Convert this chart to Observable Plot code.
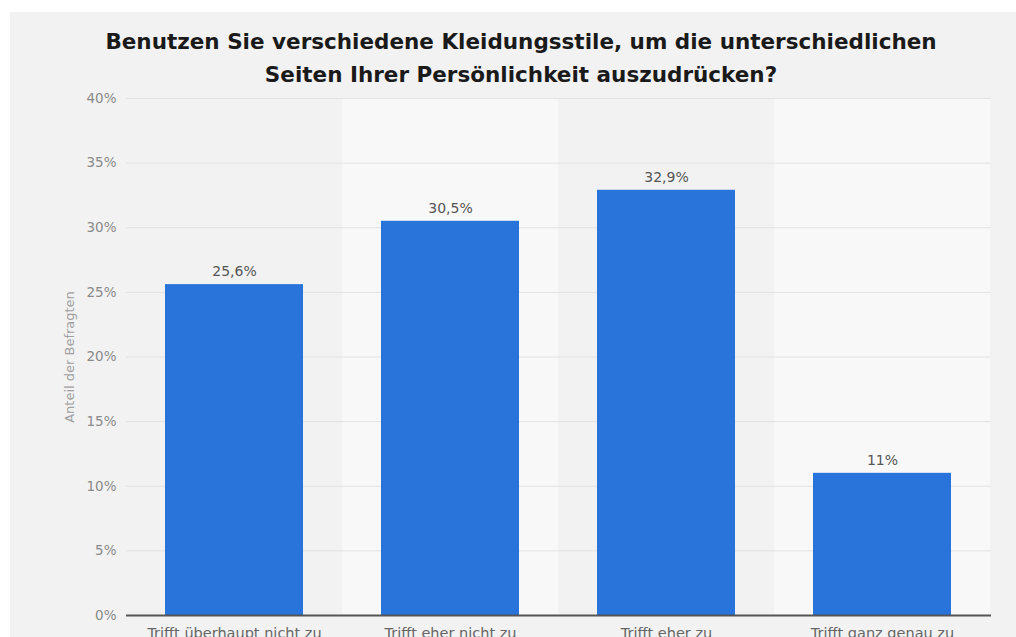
<!DOCTYPE html>
<html>
<head>
<meta charset="utf-8">
<script src="https://cdn.jsdelivr.net/npm/d3@7"></script>
<script src="https://cdn.jsdelivr.net/npm/@observablehq/plot@0.6"></script>
<style>
  html, body { margin: 0; padding: 0; background: #ffffff; overflow: hidden; width: 1016px; height: 637px; }
  #panel { position: absolute; left: 10px; top: 12px; width: 1006px; height: 640px; background: #f2f2f2; overflow: hidden; }
  #title { position: absolute; left: 0; width: 1022px; top: 13px; text-align: center;
           font-family: "DejaVu Sans", sans-serif; font-weight: bold; font-size: 21.5px; line-height: 33px; color: #1a1a1a; }
  #chart { position: absolute; left: 0; top: 78px; }
</style>
</head>
<body>
<div id="panel">
  <div id="title">Benutzen Sie verschiedene Kleidungsstile, um die unterschiedlichen<br>Seiten Ihrer Persönlichkeit auszudrücken?</div>
  <div id="chart"></div>
</div>
<script>
const categories = ["Trifft überhaupt nicht zu", "Trifft eher nicht zu", "Trifft eher zu", "Trifft ganz genau zu"];
const values = [25.6, 30.5, 32.9, 11];
const yTicks = [0, 5, 10, 15, 20, 25, 30, 35, 40];
const yLabel = "Anteil der Befragten";

const data = categories.map((c, i) => ({category: c, value: values[i]}));
const fmt = v => String(v).replace(".", ",") + "%";
const yMax = yTicks[yTicks.length - 1];

const chart = Plot.plot({
  width: 1006,
  height: 570,
  marginLeft: 116,
  marginRight: 25,
  marginTop: 8,
  marginBottom: 45,
  style: {background: "transparent", fontFamily: "'DejaVu Sans', sans-serif", fontSize: "14px", color: "#777"},
  x: {domain: categories, paddingInner: 0.36, paddingOuter: 0.18, label: null},
  y: {domain: [0, yMax], label: null},
  marks: [
    Plot.barY(categories.filter((d, i) => i % 2 === 1), {x: d => d, y: yMax, fill: "#f8f8f8", insetLeft: -39, insetRight: -39}),
    Plot.gridY(yTicks, {stroke: "#e2e2e2", strokeOpacity: 1, strokeWidth: 1}),
    Plot.axisY(yTicks, {tickSize: 0, tickPadding: 10, tickFormat: d => d + "%", fill: "#8a8a8a", fontSize: 13.5,
      label: yLabel, labelAnchor: "center", labelArrow: "none", labelOffset: 62}),
    Plot.axisX({tickSize: 0, tickPadding: 12, fill: "#666", fontSize: 14.5, label: null}),
    Plot.barY(data, {x: "category", y: "value", fill: "#2874da"}),
    Plot.ruleY([0], {stroke: "#555", strokeWidth: 2}),
    Plot.text(data, {x: "category", y: "value", text: d => fmt(d.value), dy: -13, fill: "#555", fontSize: 14})
  ]
});
chart.querySelectorAll("[aria-label='y-axis label'] text").forEach(t => { t.setAttribute("fill", "#a0a0a0"); t.setAttribute("font-size", "13"); });
document.getElementById("chart").appendChild(chart);
</script>
</body>
</html>
